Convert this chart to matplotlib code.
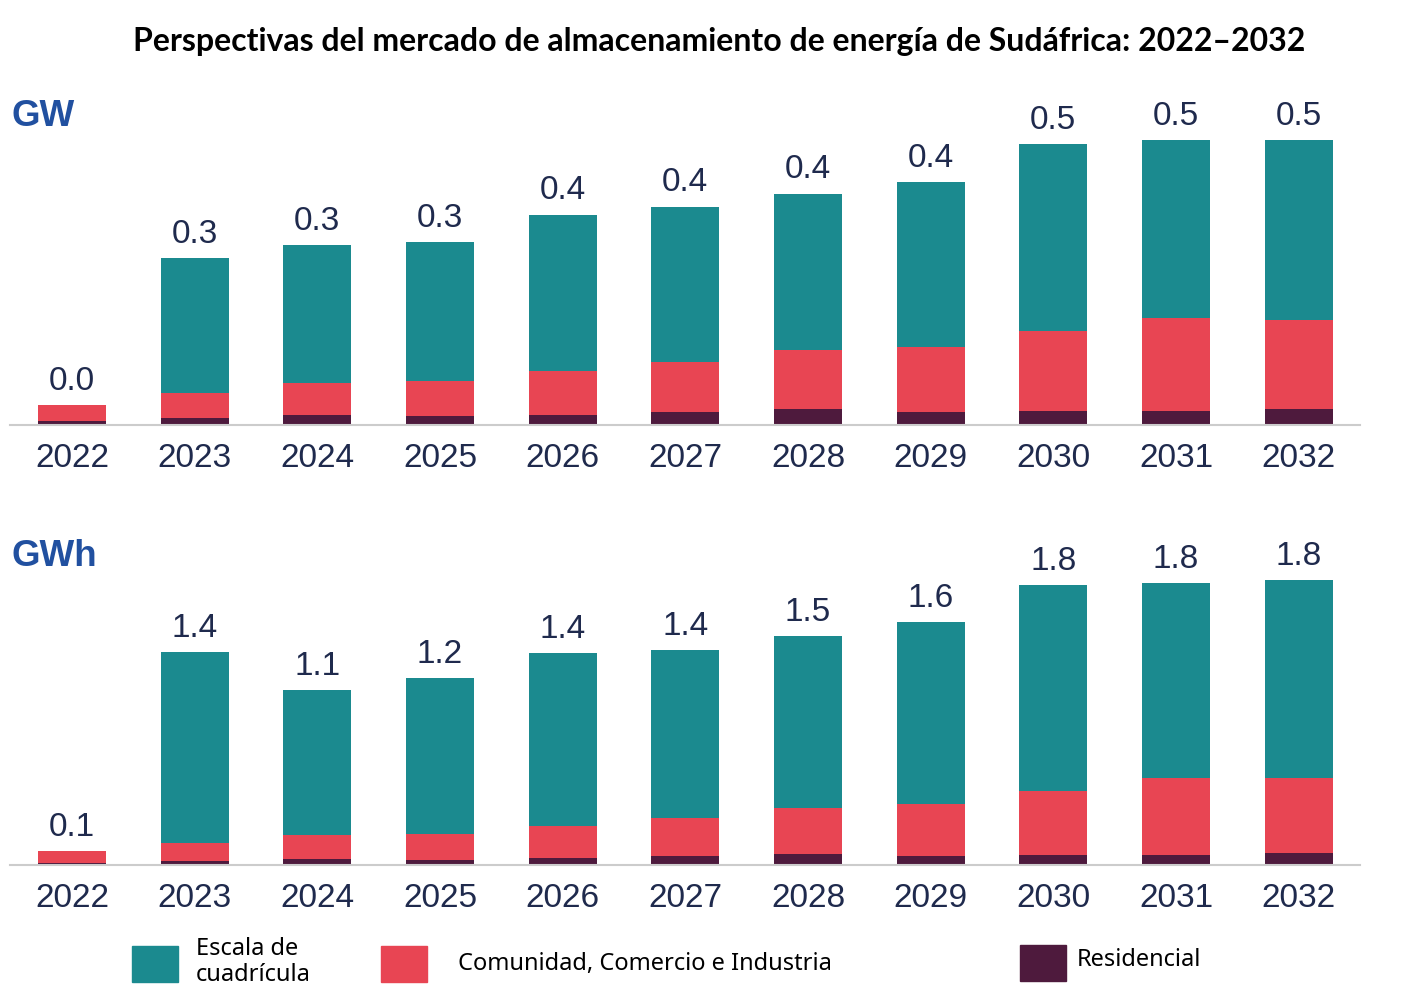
import matplotlib.pyplot as plt
from matplotlib.patches import Rectangle
import numpy as np

# data
years = ['2022', '2023', '2024', '2025', '2026', '2027', '2028', '2029', '2030', '2031', '2032']

gw_res = [0.007, 0.012, 0.018, 0.016, 0.018, 0.023, 0.028, 0.023, 0.025, 0.025, 0.028]
gw_cci = [0.028, 0.044, 0.056, 0.061, 0.077, 0.088, 0.104, 0.114, 0.140, 0.163, 0.156]
gw_grid = [0.0, 0.237, 0.242, 0.244, 0.274, 0.272, 0.274, 0.289, 0.328, 0.312, 0.316]

gwh_res = [0.013, 0.026, 0.039, 0.032, 0.045, 0.058, 0.071, 0.058, 0.065, 0.065, 0.077]
gwh_cci = [0.077, 0.116, 0.155, 0.168, 0.206, 0.245, 0.297, 0.335, 0.413, 0.497, 0.484]
gwh_grid = [0.0, 1.232, 0.935, 1.006, 1.116, 1.084, 1.110, 1.174, 1.329, 1.258, 1.277]

labels = ['Escala de\ncuadrícula', 'Comunidad, Comercio e Industria', 'Residencial']
colors = ['#1b8a8f', '#e84553', '#4e1a3d']
txt = '#1f2a4d'

plt.rcParams['font.family'] = ['Liberation Sans', 'DejaVu Sans']

fig = plt.figure(figsize=(14.1, 9.93), dpi=100)
ax1 = fig.add_axes([0.0071, 0.572, 0.9574, 0.327])
ax2 = fig.add_axes([0.0071, 0.1289, 0.9574, 0.327])

x = np.arange(len(years))


def draw(ax, res, cci, grid, ymax, unit, unit_y):
    res = np.array(res)
    cci = np.array(cci)
    grid = np.array(grid)
    w = 0.555
    ax.bar(x, res, w, color=colors[2])
    ax.bar(x, cci, w, bottom=res, color=colors[1])
    ax.bar(x, grid, w, bottom=res + cci, color=colors[0])
    tot = res + cci + grid
    for xi, t in zip(x, tot):
        ax.annotate(f'{t:.1f}', (xi, t), xytext=(0, 6), textcoords='offset points',
                    ha='center', va='bottom', fontsize=24, color=txt)
    ax.set_xlim(-0.505, 10.5)
    ax.set_ylim(0, ymax)
    ax.set_yticks([])
    ax.set_xticks(x)
    ax.set_xticklabels(years, fontsize=24, color=txt)
    ax.tick_params(axis='x', length=0, pad=13)
    for s in ['top', 'right', 'left']:
        ax.spines[s].set_visible(False)
    ax.spines['bottom'].set_color('#cccccc')
    ax.spines['bottom'].set_linewidth(1.5)
    fig.text(0.008, unit_y, unit, fontsize=26.5, fontweight='bold', color='#2150a0',
             va='center', ha='left')


draw(ax1, gw_res, gw_cci, gw_grid, 0.570, 'GW', 1 - 117 / 993)
draw(ax2, gwh_res, gwh_cci, gwh_grid, 2.097, 'GWh', 1 - 557 / 993)

fig.text(0.510, 1 - 41 / 993, 'Perspectivas del mercado de almacenamiento de energía de Sudáfrica: 2022–2032',
         ha='center', va='center', fontsize=23, fontweight='bold', family='Lato', color='black')

# legend
W, H = 1410, 993
patches = [(132, 946), (381, 946), (1020, 945)]
text_pos = [(196, 962), (458, 964), (1077, 960)]
for (px, py), (tx, ty), lab, c in zip(patches, text_pos, labels, colors):
    fig.add_artist(Rectangle((px / W, 1 - (py + 36) / H), 46 / W, 36 / H,
                             transform=fig.transFigure, color=c))
    fig.text(tx / W, 1 - ty / H, lab, fontsize=17, color='black', va='center', ha='left',
             family='Noto Sans', linespacing=1.15)

fig.savefig('out.png', dpi=100)
